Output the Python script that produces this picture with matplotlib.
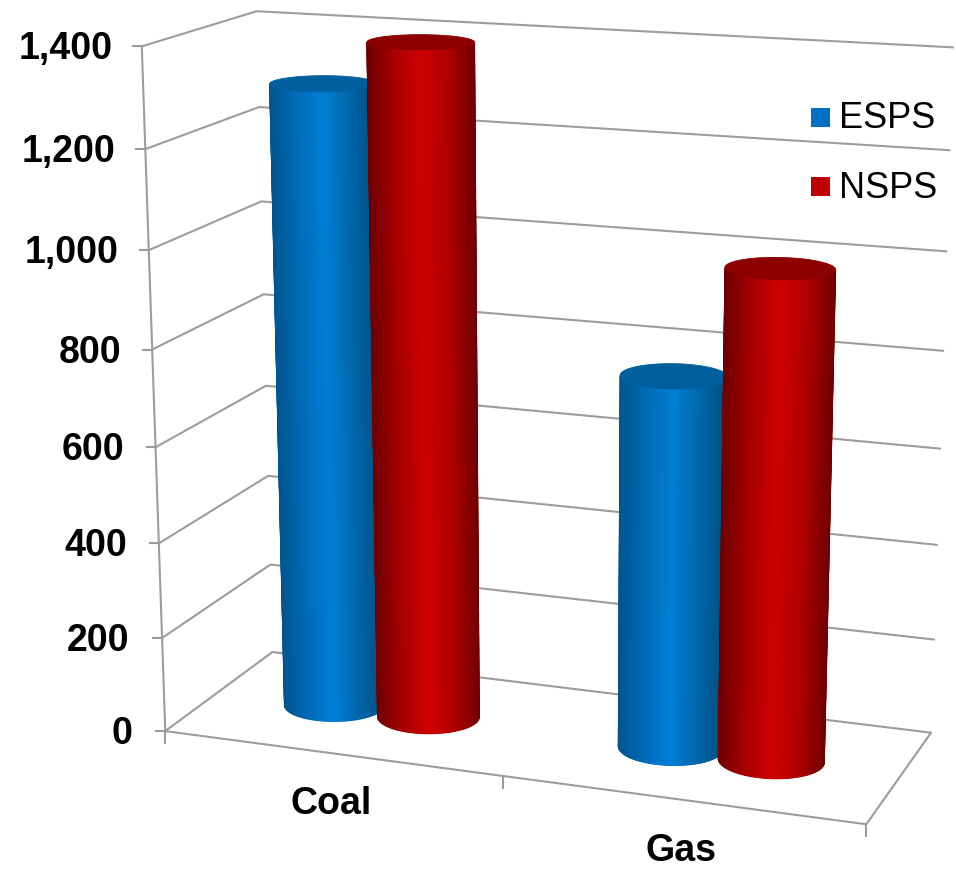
import numpy as np
import matplotlib
matplotlib.use("Agg")
import matplotlib.pyplot as plt
from matplotlib.colors import LinearSegmentedColormap
from matplotlib.patches import Rectangle

plt.rcParams['font.family'] = ['Liberation Sans', 'DejaVu Sans']

## the data
categories = ["Coal", "Gas"]
series = ["ESPS", "NSPS"]
espsvals = [1303, 770]
nspsvals = [1396, 1000]
yticks = [0, 200, 400, 600, 800, 1000, 1200, 1400]
ymax = 1400

## colors across the cylinder, then top cap, then legend swatch
palette = {
    "ESPS": (["#00568f", "#006cb8", "#007fd5", "#0066aa", "#004f80"], "#005f9c", "#0070c4"),
    "NSPS": (["#6e0000", "#a80000", "#cf0000", "#b00000", "#720000"], "#8c0000", "#c00000"),
}
gridcolor = "#9c9c9c"

## the 3d box: (category x, depth, value/ymax) -> where the corner sits on the page
box3d = np.array([[0, 0, 0], [0, 1, 0], [2, 1, 0], [2, 0, 0],
                  [0, 0, 1], [0, 1, 1], [2, 1, 1]], dtype=float)
box2d = np.array([[165, 731], [272.7, 652], [930.7, 733], [866.7, 824],
                  [141.7, 46.7], [256.7, 11], [953, 47.3]], dtype=float)

## fitting a camera matrix to the box corners
rows = []
for (X, Y, Z), (u, v) in zip(box3d, box2d):
    rows.append([X, Y, Z, 1, 0, 0, 0, 0, -u*X, -u*Y, -u*Z, -u])
    rows.append([0, 0, 0, 0, X, Y, Z, 1, -v*X, -v*Y, -v*Z, -v])
cam = np.linalg.svd(np.array(rows))[2][-1].reshape(3, 4)


def project(x, d, val):
    x, d, val = np.broadcast_arrays(np.asarray(x, float), np.asarray(d, float), np.asarray(val, float))
    pts = np.stack([x, d, val / ymax, np.ones_like(x)])
    out = cam @ pts.reshape(4, -1)
    return (out[0] / out[2]).reshape(x.shape), (out[1] / out[2]).reshape(x.shape)


fig = plt.figure(figsize=(9.56, 8.69), dpi=100)
ax = fig.add_axes([0, 0, 1, 1])
ax.set_xlim(0, 956)
ax.set_ylim(869, 0)
ax.axis("off")


def line3d(xs, ds, vals):
    px, py = project(xs, ds, vals)
    ax.plot(px, py, color=gridcolor, lw=1.5, solid_capstyle="round", zorder=1)


## walls and floor
for t in yticks:
    line3d([0, 0, 2], [0, 1, 1], [t, t, t])
line3d([0, 0], [0, 0], [0, ymax])
line3d([0, 2, 2], [0, 0, 1], [0, 0, 0])

## value ticks and labels
for t in yticks:
    px, py = project(0, 0, t)
    ax.plot([px - 9, px], [py, py], color=gridcolor, lw=1.5, zorder=1)
    ax.text(px - 33 + t / 350, py + 3, f"{t:,}", ha="right", va="center", fontsize=27, fontweight="bold", color="black")

## category ticks and labels
for i in range(len(categories) + 1):
    px, py = project(i, 0, 0)
    ax.plot([px, px], [py, py + 12], color=gridcolor, lw=1.5, zorder=1)
for i, name in enumerate(categories):
    px, py = project(i + 0.5, 0, 0)
    ax.text(px, py + 51, name, ha="center", va="center", fontsize=27, fontweight="bold", color="black")

## the cylinders
width = 0.286
rx = 0.144
rd = 0.19
theta = np.linspace(0, 2 * np.pi, 361)
nrows = 60


def cylinder(xc, dc, val, cols, capcol, z):
    xr = xc + rx * np.cos(theta)
    dr = dc + rd * np.sin(theta)
    bx, by = project(xr, dr, 0 * xr)
    tx, ty = project(xr, dr, 0 * xr + val)
    ## front half only, from left silhouette to right silhouette
    left = np.argmin(bx[:-1])
    right = np.argmax(bx[:-1])
    idx = np.arange(left, right + 361 if right < left else right + 1) % 360
    idx = idx[::4]
    cmap = LinearSegmentedColormap.from_list("cyl", cols)
    frac = (bx[idx] - bx[idx].min()) / (bx[idx].max() - bx[idx].min())
    ## soft edge for the outline, the mesh itself is not antialiased
    outx = np.r_[bx[idx], tx[idx][::-1]]
    outy = np.r_[by[idx], ty[idx][::-1]]
    ax.fill(outx, outy, color=cols[2], lw=0, zorder=z)
    ## many short rows, long thin gouraud triangles bleed outside their edges
    w = np.linspace(0, 1, nrows)[:, None]
    ax.pcolormesh(bx[idx] + w * (tx[idx] - bx[idx]), by[idx] + w * (ty[idx] - by[idx]),
                  np.tile(frac, (nrows, 1)), cmap=cmap, vmin=0, vmax=1, shading="gouraud", zorder=z)
    ax.fill(tx, ty, color=capcol, lw=0.6, zorder=z)


z = 3
for i in range(len(categories)):
    for s, (name, vals) in enumerate(zip(series, [espsvals, nspsvals])):
        cylinder(i + 0.5 + (s - 0.5) * width, 0.5, vals[i], palette[name][0], palette[name][1], z)
        z += 1

## legend
for name, ly in zip(series, [117, 186]):
    ax.add_patch(Rectangle((811, ly - 9.5), 19, 19, color=palette[name][2], lw=0, zorder=20))
    ax.text(839, ly + 2, name, ha="left", va="center", fontsize=26, color="black")

ax.set_xlim(0, 956)
ax.set_ylim(869, 0)
fig.savefig("out.png", dpi=100)
